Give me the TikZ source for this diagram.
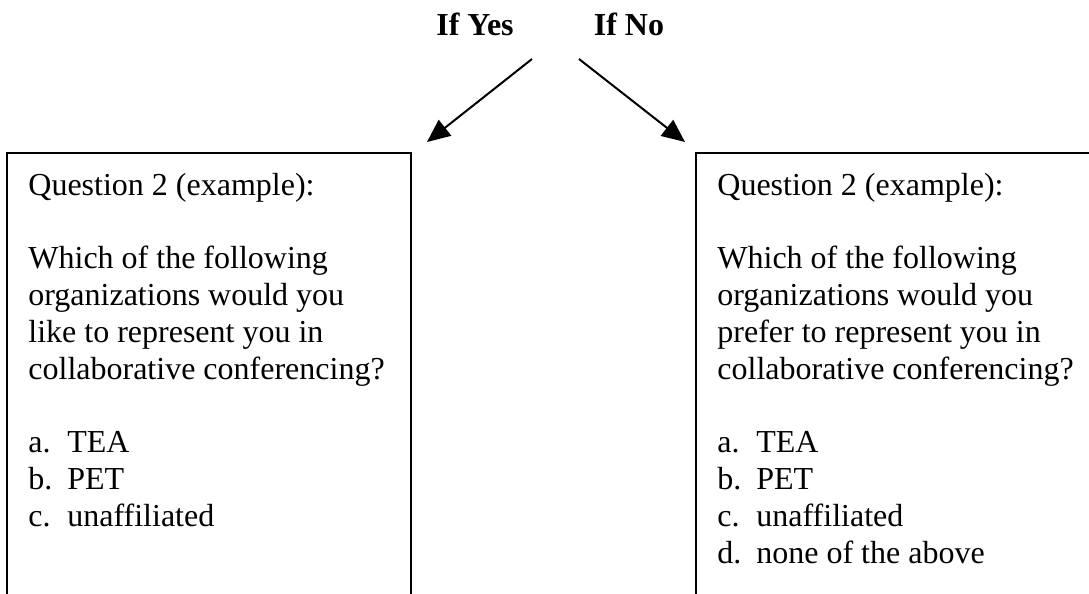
\documentclass[tikz,border=0pt]{standalone}
\usepackage{fontspec}
\setmainfont{Liberation Serif}
\usetikzlibrary{arrows.meta}
\newcommand{\opt}[2]{\makebox[19.5pt][l]{#1}#2}
\begin{document}
\begin{tikzpicture}[x=0.5pt,y=-0.5pt,
  qtext/.style={anchor=base west,align=left,inner sep=0pt,font=\fontsize{16}{18.4}\selectfont},
  lbl/.style={anchor=base,inner sep=0pt,font=\fontsize{16}{18.4}\selectfont\bfseries},
  frame/.style={line width=1pt},
  flow/.style={line width=1pt,-{Triangle[length=11.5pt,width=10pt]}}]
\useasboundingbox (0,0) rectangle (1089,594);
%
\node[lbl](yes) at (475,35){If Yes};
\node[lbl](no) at (629,35){If No};
\coordinate(yesfrom) at (532,59);
\coordinate(yesto) at (427,142);
\coordinate(nofrom) at (579,59);
\coordinate(noto) at (685,142);
\draw[flow](yesfrom)--(yesto);
\draw[flow](nofrom)--(noto);
%
\draw[frame](7,600)--(7,153)--(411,153)--(411,600);
\draw[frame](696,600)--(696,153)--(1095,153);
% base of a many-line node is its last line
\node[qtext](qyes) at (28,526.2){Question 2 (example):\\[18.4pt]
Which of the following\\organizations would you\\like to represent you in\\collaborative conferencing?\\[18.4pt]
\opt{a.}{TEA}\\\opt{b.}{PET}\\\opt{c.}{unaffiliated}};
\node[qtext](qno) at (717,563){Question 2 (example):\\[18.4pt]
Which of the following\\organizations would you\\prefer to represent you in\\collaborative conferencing?\\[18.4pt]
\opt{a.}{TEA}\\\opt{b.}{PET}\\\opt{c.}{unaffiliated}\\\opt{d.}{none of the above}};
\end{tikzpicture}
\end{document}
